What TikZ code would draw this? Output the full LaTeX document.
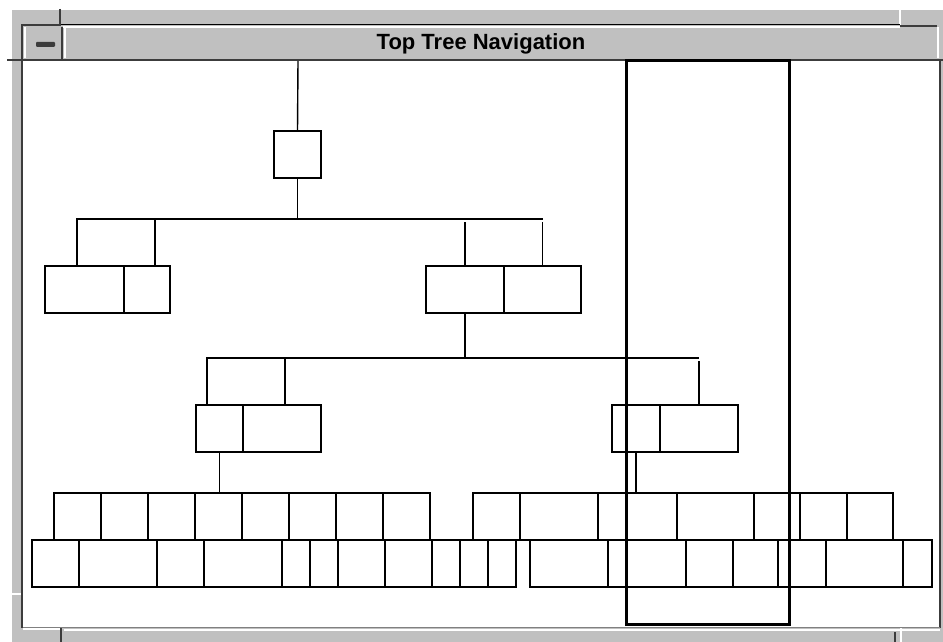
\documentclass[tikz,border=0pt]{standalone}
\usepackage{fontspec}
\setmainfont{Liberation Sans}
\usetikzlibrary{positioning}
\definecolor{wingray}{RGB}{192,192,192}
\definecolor{windark}{RGB}{60,60,60}

\begin{document}
\begin{tikzpicture}[
  x=1pt, y=-1pt,
  cell/.style={
    rectangle, draw=black, line width=1.5pt, fill=white,
    inner sep=0pt, outer sep=0pt, anchor=north west,
    minimum height=47pt
  },
  link/.style={draw=black, line width=1.4pt},
  bevel/.style={draw=white, line width=1.6pt},
  shade/.style={draw=windark, line width=2pt},
  focus/.style={draw=black, line width=3pt},
]
\useasboundingbox (0,0) rectangle (943,642);

% Window frame
\fill[white] (0,0) rectangle (943,642);
\fill[wingray] (10,10) rectangle (943,642);
\draw[bevel] (11,10) -- (11,642);
\draw[bevel] (63,27) -- (900,27);
\draw[bevel] (900,10) -- (900,25);
\draw[bevel] (938,27) -- (938,58);
\draw[bevel] (25,27) -- (25,58);
\draw[bevel] (65,27) -- (65,58);
\draw[bevel] (10,594) -- (22,594);
\draw[black, line width=1pt] (60,25) -- (900,25);
\draw[shade] (60,9) -- (60,25) -- (22,25) -- (22,628);
\draw[shade] (900,26) -- (937,26);
\draw[shade] (62,27) -- (62,59);
\draw[shade] (7,60) -- (22,60);
\fill[windark, rounded corners=1pt] (36,42) rectangle (55,47);

% Title
\node[font=\fontsize{22}{26}\selectfont\bfseries] (title) at (481,44)
  {Top Tree Navigation};

% Content pane
\fill[white] (23,61) rectangle (940,627);
\draw[windark, line width=1.5pt] (7,60) -- (943,60);
\draw[windark, line width=1.5pt] (940,60) -- (940,628);
\draw[gray, line width=1pt] (23,627) -- (940,627);
\draw[bevel] (23,629) -- (60,629);
\draw[bevel] (64,630) -- (940,630);
\draw[shade] (61,628) -- (61,642);
\draw[shade] (895,632) -- (895,642);
\draw[bevel] (901,628) -- (901,642);

% Root
\coordinate (top) at (298,61);
\node[cell, minimum width=47pt] (root) at (274,131) {};

% Level one
\node[cell, minimum width=78pt] (lhead) at (77,219) {};
\node[cell, minimum width=79pt] (la) at (45,266) {};
\node[cell, minimum width=46pt] (lb) at (124,266) {};
\node[cell, minimum width=78pt] (ra) at (426,266) {};
\node[cell, minimum width=77pt] (rb) at (504,266) {};

% Level two
\node[cell, minimum width=78pt] (mhead) at (207,358) {};
\node[cell, minimum width=47pt] (mc) at (196,405) {};
\node[cell, minimum width=78pt] (md) at (243,405) {};
\node[cell, minimum width=48pt] (rc) at (612,405) {};
\node[cell, minimum width=78pt] (rd) at (660,405) {};

% Level three, upper row
\node[cell, minimum width=47pt] (t1) at (54,493) {};
\node[cell, minimum width=47pt] (t2) at (101,493) {};
\node[cell, minimum width=47pt] (t3) at (148,493) {};
\node[cell, minimum width=47pt] (t4) at (195,493) {};
\node[cell, minimum width=47pt] (t5) at (242,493) {};
\node[cell, minimum width=47pt] (t6) at (289,493) {};
\node[cell, minimum width=47pt] (t7) at (336,493) {};
\node[cell, minimum width=47pt] (t8) at (383,493) {};
\node[cell, minimum width=47pt] (u1) at (473,493) {};
\node[cell, minimum width=78pt] (u2) at (520,493) {};
\node[cell, minimum width=79pt] (u3) at (598,493) {};
\node[cell, minimum width=77pt] (u4) at (677,493) {};
\node[cell, minimum width=46pt] (u5) at (754,493) {};
\node[cell, minimum width=47pt] (u6) at (800,493) {};
\node[cell, minimum width=46pt] (u7) at (847,493) {};

% Level three, lower row
\node[cell, minimum width=47pt] (b1) at (32,540) {};
\node[cell, minimum width=78pt] (b2) at (79,540) {};
\node[cell, minimum width=47pt] (b3) at (157,540) {};
\node[cell, minimum width=78pt] (b4) at (204,540) {};
\node[cell, minimum width=28pt] (b5) at (282,540) {};
\node[cell, minimum width=28pt] (b6) at (310,540) {};
\node[cell, minimum width=47pt] (b7) at (338,540) {};
\node[cell, minimum width=47pt] (b8) at (385,540) {};
\node[cell, minimum width=28pt] (b9) at (432,540) {};
\node[cell, minimum width=28pt] (b10) at (460,540) {};
\node[cell, minimum width=28pt] (b11) at (488,540) {};
\node[cell, minimum width=78pt] (v1) at (530,540) {};
\node[cell, minimum width=78pt] (v2) at (608,540) {};
\node[cell, minimum width=47pt] (v3) at (686,540) {};
\node[cell, minimum width=45pt] (v4) at (733,540) {};
\node[cell, minimum width=48pt] (v5) at (778,540) {};
\node[cell, minimum width=77pt] (v6) at (826,540) {};
\node[cell, minimum width=29pt] (v7) at (903,540) {};

% Connectors
\draw[link] (top) -- (root.north);
\draw[link] (root.south) -- (root.south |- lhead.north);
\draw[link] (lhead.north east) -- (rb.north |- lhead.north);
\draw[link] ([yshift=-3pt]ra.north |- lhead.north) -- (ra.north);
\draw[link] ([yshift=-3pt]rb.north |- lhead.north) -- (rb.north);
\draw[link] (ra.south) -- (ra.south |- mhead.north);
\draw[link] (mhead.north east) -- (rd.north |- mhead.north);
\draw[link] ([yshift=-3pt]rd.north |- mhead.north) -- (rd.north);
\draw[link] (mc.south) -- (mc.south |- t4.north);
\draw[link] (rc.south) -- (rc.south |- u3.north);

% Focus frame
\node[focus, rectangle, inner sep=0pt, outer sep=0pt, anchor=north west,
  minimum width=163pt, minimum height=563pt] (view) at (626,61) {};

\end{tikzpicture}
\end{document}
